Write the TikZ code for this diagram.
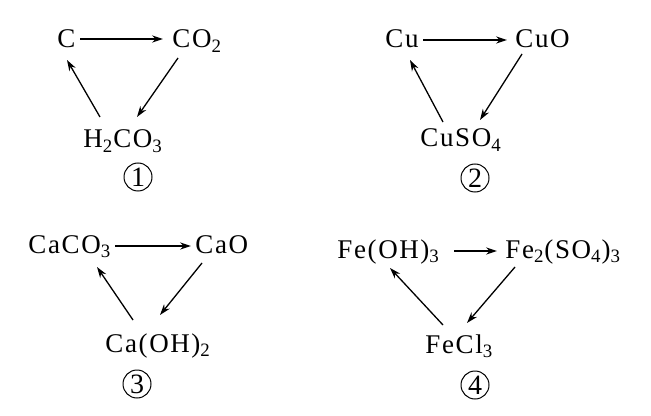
\documentclass[tikz,border=0pt]{standalone}
\usepackage{fontspec}
\setmainfont{Liberation Serif}[LetterSpace=6]
\usepackage{tikz}
\usetikzlibrary{arrows.meta,calc}

\begin{document}
\begin{tikzpicture}[
    x=0.5pt, y=-0.5pt,
    chem/.style={anchor=base west, inner sep=0pt, font=\fontsize{13.5}{16}\selectfont},
    num/.style={circle, draw, line width=0.5pt, minimum size=14pt, inner sep=0pt, font=\fontsize{14}{14}\selectfont},
    arr/.style={-{Stealth[length=5.5pt,width=3.6pt]}, line width=0.65pt},
]
\useasboundingbox (0,0) rectangle (651,416);
% 1: C -> CO2 -> H2CO3
\node[chem] (c) at (57,48) {C};
\node[chem] (co2) at (172,48) {CO\textsubscript{2}};
\node[chem] (h2co3) at (83,148) {H\textsubscript{2}CO\textsubscript{3}};
\node[num] (n1) at (138,177) {1};
\draw[arr] ($(c.base west)+(23,-9)$) -- ($(co2.base west)+(-9,-9)$);
\draw[arr] ($(co2.base west)+(6,10)$) -- ($(h2co3.base west)+(54,-31)$);
\draw[arr] ($(h2co3.base west)+(17,-31)$) -- ($(c.base west)+(10,12)$);
% 2: Cu -> CuO -> CuSO4
\node[chem] (cu) at (385,48) {Cu};
\node[chem] (cuo) at (515,48) {CuO};
\node[chem] (cuso4) at (420,147) {CuSO\textsubscript{4}};
\node[num] (n2) at (475,178) {2};
\draw[arr] ($(cu.base west)+(38,-8)$) -- ($(cuo.base west)+(-8,-8)$);
\draw[arr] ($(cuo.base west)+(7,6)$) -- ($(cuso4.base west)+(60,-27)$);
\draw[arr] ($(cuso4.base west)+(23,-25)$) -- ($(cu.base west)+(25,12)$);
% 3: CaCO3 -> CaO -> Ca(OH)2
\node[chem] (caco3) at (28,253) {CaCO\textsubscript{3}};
\node[chem] (cao) at (195,253) {CaO};
\node[chem] (caoh2) at (105,352) {Ca(OH)\textsubscript{2}};
\node[num] (n3) at (137,384) {3};
\draw[arr] ($(caco3.base west)+(87,-7)$) -- ($(cao.base west)+(-4,-7)$);
\draw[arr] ($(cao.base west)+(7,10)$) -- ($(caoh2.base west)+(55,-37)$);
\draw[arr] ($(caoh2.base west)+(28,-32)$) -- ($(caco3.base west)+(69,14)$);
% 4: Fe(OH)3 -> Fe2(SO4)3 -> FeCl3
\node[chem] (feoh3) at (337,258) {Fe(OH)\textsubscript{3}};
\node[chem] (fe2so43) at (505,258) {Fe\textsubscript{2}(SO\textsubscript{4})\textsubscript{3}};
\node[chem] (fecl3) at (425,353) {FeCl\textsubscript{3}};
\node[num] (n4) at (475,385) {4};
\draw[arr] ($(feoh3.base west)+(117,-7)$) -- ($(fe2so43.base west)+(-8,-7)$);
\draw[arr] ($(fe2so43.base west)+(10,9)$) -- ($(fecl3.base west)+(42,-30)$);
\draw[arr] ($(fecl3.base west)+(18,-28)$) -- ($(feoh3.base west)+(53,10)$);
\end{tikzpicture}
\end{document}
